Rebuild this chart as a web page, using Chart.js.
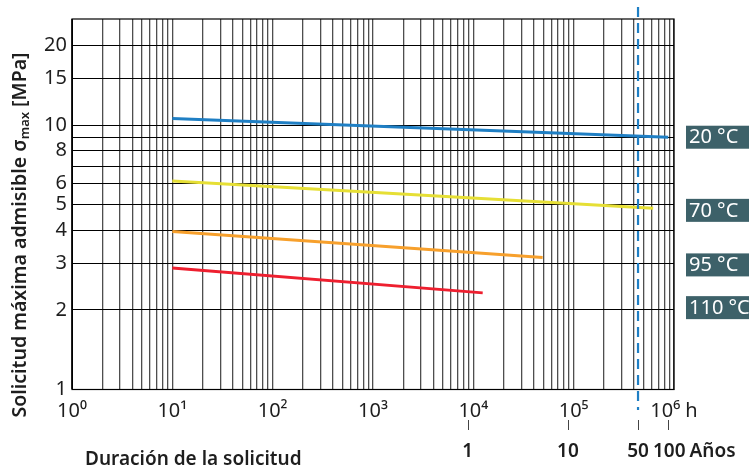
<!DOCTYPE html>
<html><head><meta charset="utf-8">
<script src="https://cdn.jsdelivr.net/npm/chart.js@4"></script>
<style>html,body{margin:0;padding:0;background:#fff;}canvas{display:block;}</style>
</head><body>
<canvas id="c" width="749" height="468"></canvas>
<script>
// ---- data ----
const hours20 = [10, 876000];
const mpa20   = [10.6, 9.0];
const hours70 = [10, 620000];
const mpa70   = [6.15, 4.85];
const hours95 = [10, 49000];
const mpa95   = [3.96, 3.16];
const hours110 = [10, 12400];
const mpa110   = [2.88, 2.32];

const seriesNames = ['20 °C', '70 °C', '95 °C', '110 °C'];

const xDecades = [1, 10, 100, 1000, 10000, 100000, 1000000];
const xTickLabels = ['10⁰', '10¹', '10²', '10³', '10⁴', '10⁵', '10⁶ h'];
const yTicks = [1, 2, 3, 4, 5, 6, 7, 8, 9, 10, 15, 20];
const yTickLabels = ['1', '2', '3', '4', '5', '6', '', '8', '', '10', '15', '20'];

const yearValues = [1, 10, 50, 100];
const yearLabels = ['1', '10', '50', '100'];
const yearUnit = 'Años';
const hoursPerYear = 8760;
const designLifeYears = 50;

const xTitle = 'Duración de la solicitud';
const yTitleParts = ['Solicitud máxima admisible σ', 'max', ' [MPa]'];

// label anchor values (MPa) for the temperature tags
const tagValues = [9.0, 4.76, 2.96, 2.04];

// ---- build ----
const colors = ['#1f7fc4', '#e6df35', '#f7a02c', '#ee1f2f'];
const xGrid = [];
xDecades.forEach((d, i) => {
  xGrid.push(d);
  if (i < xDecades.length - 1) for (let m = 2; m <= 9; m++) xGrid.push(d * m);
});
function pts(h, v) { return h.map((x, i) => ({ x: x, y: v[i] })); }
const allSeries = [[hours20, mpa20], [hours70, mpa70], [hours95, mpa95], [hours110, mpa110]];

const FONT = "'Noto Sans', 'DejaVu Sans', sans-serif";
const TXT = '#1e1e1e';

const extras = {
  id: 'extras',
  beforeDatasetsDraw(chart) {
    const ca = chart.chartArea, ctx = chart.ctx;
    ctx.save();
    ctx.strokeStyle = '#000';
    ctx.lineWidth = 1.2;
    ctx.strokeRect(ca.left, ca.top, ca.right - ca.left, ca.bottom - ca.top);
    ctx.restore();
  },
  afterDraw(chart) {
    const ctx = chart.ctx, xs = chart.scales.x, ys = chart.scales.y;
    ctx.save();
    // design life dashed line
    const xd = xs.getPixelForValue(designLifeYears * hoursPerYear);
    ctx.strokeStyle = '#1f7fc4';
    ctx.lineWidth = 2.2;
    ctx.setLineDash([10, 6]);
    ctx.beginPath();
    ctx.moveTo(xd, 7);
    ctx.lineTo(xd, 410);
    ctx.stroke();
    ctx.setLineDash([]);

    // years axis
    ctx.strokeStyle = '#444';
    ctx.lineWidth = 1;
    ctx.fillStyle = TXT;
    ctx.font = "600 19px " + FONT;
    ctx.textBaseline = 'middle';
    ctx.textAlign = 'center';
    yearValues.forEach((y, i) => {
      const px = xs.getPixelForValue(y * hoursPerYear);
      ctx.beginPath();
      ctx.moveTo(Math.round(px) + 0.5, 420);
      ctx.lineTo(Math.round(px) + 0.5, 430);
      ctx.stroke();
      const last = i === yearValues.length - 1;
      const lx = last ? px + 1 : px;
      ctx.fillText(yearLabels[i], lx, 452);
      if (last) {
        const w = ctx.measureText(yearLabels[i]).width;
        ctx.textAlign = 'left';
        ctx.fillText(yearUnit, lx + w / 2 + 4, 452);
        ctx.textAlign = 'center';
      }
    });

    // x title
    ctx.font = "600 19px " + FONT;
    ctx.textAlign = 'left';
    ctx.fillText(xTitle, 85, 460);

    // y title with subscript
    ctx.translate(19, 235);
    ctx.rotate(-Math.PI / 2);
    const big = "600 19.5px " + FONT, small = "600 13px " + FONT;
    ctx.font = big; const w0 = ctx.measureText(yTitleParts[0]).width;
    const w2 = ctx.measureText(yTitleParts[2]).width;
    ctx.font = small; const w1 = ctx.measureText(yTitleParts[1]).width;
    let sx = -(w0 + w1 + w2) / 2;
    ctx.textBaseline = 'alphabetic';
    ctx.font = big; ctx.fillText(yTitleParts[0], sx, 7); sx += w0;
    ctx.font = small; ctx.fillText(yTitleParts[1], sx, 10); sx += w1;
    ctx.font = big; ctx.fillText(yTitleParts[2], sx, 7);
    ctx.setTransform(1, 0, 0, 1, 0, 0);

    // temperature tags
    ctx.font = "20px " + FONT;
    ctx.textBaseline = 'middle';
    ctx.textAlign = 'left';
    tagValues.forEach((v, i) => {
      const cy = ys.getPixelForValue(v);
      ctx.fillStyle = '#3d6169';
      ctx.fillRect(686, cy - 11.5, 63, 23);
      ctx.fillStyle = '#fff';
      ctx.fillText(seriesNames[i], 689, cy + 0.5);
    });
    ctx.restore();
  }
};

new Chart(document.getElementById('c').getContext('2d'), {
  type: 'line',
  data: {
    datasets: allSeries.map((s, i) => ({
      label: seriesNames[i],
      data: pts(s[0], s[1]),
      borderColor: colors[i],
      borderWidth: 3,
      pointRadius: 0,
      tension: 0,
      fill: false
    }))
  },
  options: {
    responsive: false,
    animation: false,
    devicePixelRatio: 1,
    layout: { padding: { left: 0, right: 75, top: 19, bottom: 0 } },
    plugins: { legend: { display: false }, tooltip: { enabled: false } },
    scales: {
      x: {
        type: 'logarithmic', min: 1, max: 1000000, position: 'bottom',
        afterBuildTicks: s => { s.ticks = xGrid.map(v => ({ value: v })); },
        afterFit: s => { s.height = 78.5; },
        grid: { color: '#4e4e4e', lineWidth: 1.3, drawTicks: false },
        border: { display: true, color: '#000', width: 1 },
        ticks: {
          autoSkip: false, maxRotation: 0, minRotation: 0, padding: 10,
          color: TXT, font: { family: FONT, size: 20 },
          callback: function (v) {
            const k = xDecades.findIndex(d => Math.abs(d - v) / d < 1e-6);
            return k >= 0 ? xTickLabels[k] : '';
          }
        }
      },
      y: {
        type: 'logarithmic', min: 1, max: 25.2,
        afterBuildTicks: s => { s.ticks = yTicks.map(v => ({ value: v })); },
        afterFit: s => { s.width = 72; },
        grid: { color: '#000', lineWidth: 1, drawTicks: false },
        border: { display: true, color: '#000', width: 1 },
        ticks: {
          autoSkip: false, padding: 5,
          color: TXT, font: { family: FONT, size: 20 },
          callback: function (v) {
            const k = yTicks.findIndex(t => Math.abs(t - v) < 1e-6);
            return k >= 0 ? yTickLabels[k] : '';
          }
        }
      }
    }
  },
  plugins: [extras]
});
</script>
</body></html>
